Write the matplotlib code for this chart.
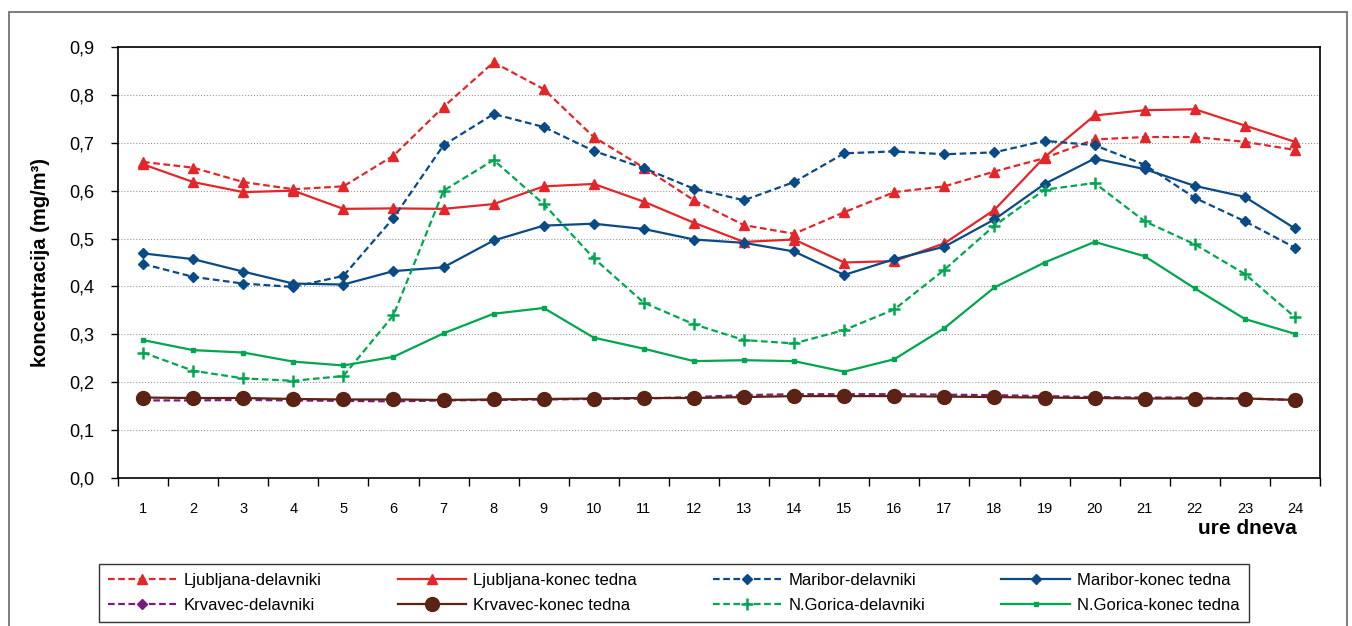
import numpy as np
import matplotlib.pyplot as plt
from matplotlib.patches import Rectangle
from matplotlib.ticker import FixedLocator, NullFormatter

plt.rcParams['font.family'] = ['Liberation Sans', 'DejaVu Sans']

hours = list(range(1, 25))

lj_del = [0.660, 0.648, 0.618, 0.603, 0.609, 0.673, 0.775, 0.868, 0.812, 0.712, 0.648, 0.580,
          0.528, 0.510, 0.555, 0.597, 0.609, 0.640, 0.668, 0.707, 0.712, 0.712, 0.702, 0.685]
lj_kon = [0.655, 0.618, 0.597, 0.600, 0.562, 0.563, 0.562, 0.572, 0.609, 0.614, 0.577, 0.533,
          0.493, 0.498, 0.450, 0.453, 0.490, 0.560, 0.670, 0.757, 0.768, 0.770, 0.736, 0.702]
mb_del = [0.447, 0.420, 0.406, 0.399, 0.422, 0.543, 0.695, 0.760, 0.733, 0.683, 0.647, 0.604,
          0.580, 0.618, 0.678, 0.682, 0.676, 0.680, 0.704, 0.695, 0.654, 0.585, 0.536, 0.481]
mb_kon = [0.469, 0.457, 0.431, 0.406, 0.404, 0.432, 0.440, 0.496, 0.527, 0.531, 0.520, 0.498,
          0.491, 0.473, 0.424, 0.457, 0.483, 0.540, 0.614, 0.667, 0.645, 0.610, 0.587, 0.521]
kr_del = [0.162, 0.162, 0.163, 0.162, 0.161, 0.160, 0.162, 0.163, 0.164, 0.165, 0.166, 0.169,
          0.173, 0.175, 0.175, 0.175, 0.174, 0.173, 0.171, 0.169, 0.168, 0.168, 0.166, 0.163]
kr_kon = [0.168, 0.167, 0.167, 0.165, 0.164, 0.164, 0.163, 0.164, 0.165, 0.166, 0.167, 0.167,
          0.169, 0.171, 0.171, 0.171, 0.170, 0.169, 0.168, 0.167, 0.166, 0.166, 0.166, 0.163]
ng_del = [0.262, 0.224, 0.208, 0.203, 0.213, 0.340, 0.600, 0.664, 0.572, 0.459, 0.366, 0.321,
          0.288, 0.281, 0.309, 0.352, 0.435, 0.527, 0.602, 0.616, 0.536, 0.488, 0.426, 0.336]
ng_kon = [0.288, 0.267, 0.262, 0.243, 0.235, 0.253, 0.302, 0.343, 0.355, 0.293, 0.270, 0.244,
          0.246, 0.244, 0.222, 0.248, 0.313, 0.398, 0.450, 0.493, 0.463, 0.396, 0.332, 0.301]
y_ticks = [0.0, 0.1, 0.2, 0.3, 0.4, 0.5, 0.6, 0.7, 0.8, 0.9]

red = '#E3262A'
blue = '#0A4A86'
purple = '#7A1C7E'
brown = '#5C2314'
green = '#00A650'
dash = (0, (3, 1.6))

fig = plt.figure(figsize=(13.52, 6.26), dpi=100)
ax = fig.add_axes([118 / 1352, 1 - 478 / 626, 1202 / 1352, 431 / 626])

# outer chart frame
fig.patches.append(Rectangle((9 / 1352, -0.05), 1338 / 1352, 1 - 12 / 626 + 0.05,
                             transform=fig.transFigure, fill=False,
                             edgecolor='#666666', linewidth=1.2))

lw = 1.6
h = {}
h['ljd'], = ax.plot(hours, lj_del, color=red, ls=dash, lw=lw, marker='^', ms=7,
                    label='Ljubljana-delavniki')
h['ljk'], = ax.plot(hours, lj_kon, color=red, lw=lw, marker='^', ms=7,
                    label='Ljubljana-konec tedna')
h['mbd'], = ax.plot(hours, mb_del, color=blue, ls=dash, lw=lw, marker='D', ms=5,
                    label='Maribor-delavniki')
h['mbk'], = ax.plot(hours, mb_kon, color=blue, lw=lw, marker='D', ms=5,
                    label='Maribor-konec tedna')
h['krd'], = ax.plot(hours, kr_del, color=purple, ls=dash, lw=lw, marker='D', ms=5,
                    label='Krvavec-delavniki')
h['krk'], = ax.plot(hours, kr_kon, color=brown, lw=lw, marker='o', ms=10,
                    label='Krvavec-konec tedna')
h['ngd'], = ax.plot(hours, ng_del, color=green, ls=dash, lw=lw, marker='+', ms=8, mew=1.8,
                    label='N.Gorica-delavniki')
h['ngk'], = ax.plot(hours, ng_kon, color=green, lw=lw, marker='s', ms=2.5,
                    label='N.Gorica-konec tedna')

ax.set_xlim(0.5, 24.5)
ax.set_ylim(0, 0.9)
ax.set_yticks(y_ticks)
ax.set_yticklabels([f'{v:.1f}'.replace('.', ',') for v in y_ticks])
ax.set_xticks(hours)
ax.set_xticklabels([str(x) for x in hours])
ax.xaxis.set_minor_locator(FixedLocator(np.arange(0.5, 25, 1)))
ax.xaxis.set_minor_formatter(NullFormatter())
ax.tick_params(axis='x', which='major', length=0, pad=17, labelsize=10.5)
ax.tick_params(axis='x', which='minor', length=6, direction='out', width=1)
ax.tick_params(axis='y', length=5, direction='out', width=1, labelsize=13, pad=12)
ax.grid(axis='y', color='#999999', ls=':', lw=0.8)
for s in ax.spines.values():
    s.set_color('black')
    s.set_linewidth(1.2)

ax.set_ylabel('koncentracija (mg/m³)', fontsize=14.5, fontweight='bold', labelpad=14)
fig.text(1297 / 1352, 1 - 529 / 626, 'ure dneva', fontsize=15, fontweight='bold',
         ha='right', va='center')

order = ['ljd', 'krd', 'ljk', 'krk', 'mbd', 'ngd', 'mbk', 'ngk']
leg = fig.legend([h[k] for k in order], [h[k].get_label() for k in order],
                 loc='lower left', ncol=4, mode='expand',
                 bbox_to_anchor=(99 / 1352, 1 - 622 / 626, 1150 / 1352, 54 / 626),
                 fontsize=12, handlelength=4.1, handletextpad=0.45,
                 borderaxespad=0, labelspacing=0.6, frameon=True, fancybox=False,
                 edgecolor='black', borderpad=0.55)
leg.get_frame().set_linewidth(1.0)

plt.savefig('out.png', dpi=100)
